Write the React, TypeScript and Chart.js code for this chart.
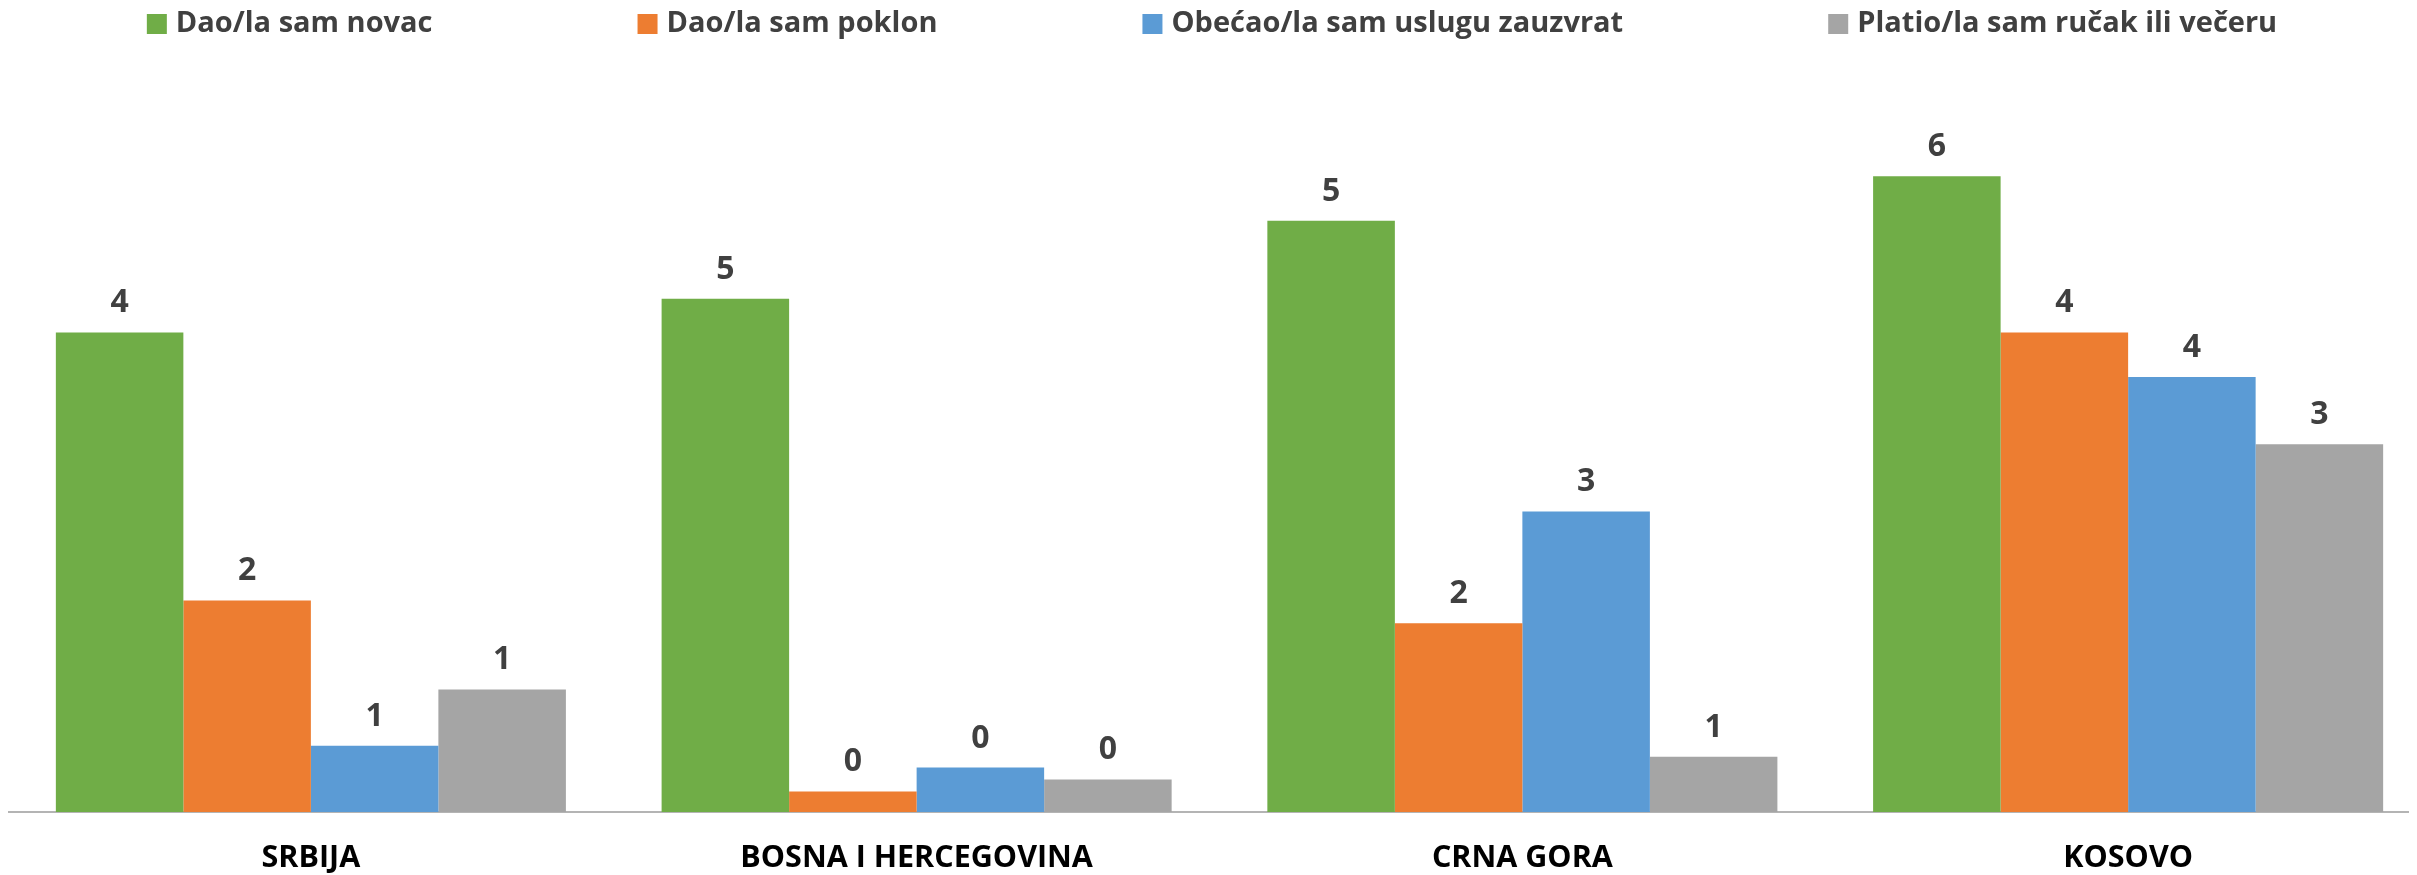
import React, { useEffect, useRef } from "react";
import { Chart, registerables } from "chart.js";

Chart.register(...registerables);

const categories = ["SRBIJA", "BOSNA I HERCEGOVINA", "CRNA GORA", "KOSOVO"];
const seriesLabels = [
  "Dao/la sam novac",
  "Dao/la sam poklon",
  "Obećao/la sam uslugu zauzvrat",
  "Platio/la sam ručak ili večeru",
];
const gaveMoney = [4.42, 4.73, 5.45, 5.86];
const gaveGift = [1.95, 0.19, 1.74, 4.42];
const promisedFavor = [0.61, 0.41, 2.77, 4.01];
const paidMeal = [1.13, 0.3, 0.51, 3.39];
const seriesColors = ["#70AD47", "#ED7D31", "#5B9BD5", "#A5A5A5"];
const yMax = 7;

const FONT = "'Open Sans', sans-serif";

const legendPlugin = {
  id: "customLegend",
  afterDraw(chart: any) {
    const ctx = chart.ctx;
    ctx.save();
    ctx.font = `bold 29px ${FONT}`;
    ctx.textBaseline = "middle";
    ctx.textAlign = "left";
    const box = 20;
    const boxGap = 9;
    const itemGap = 205;
    const items = chart.data.datasets.map((ds: any) => ({
      text: ds.label,
      color: ds.backgroundColor,
      w: ctx.measureText(ds.label).width,
    }));
    const total =
      items.reduce((s: number, it: any) => s + box + boxGap + it.w, 0) +
      itemGap * (items.length - 1);
    let x = 1204 - total / 2;
    const cy = 16;
    items.forEach((it: any) => {
      ctx.fillStyle = it.color;
      ctx.fillRect(x, cy - box / 2, box, box);
      ctx.fillStyle = "#404040";
      ctx.fillText(it.text, x + box + boxGap, cy);
      x += box + boxGap + it.w + itemGap;
    });
    ctx.restore();
  },
};

const dataLabelPlugin = {
  id: "barValueLabels",
  afterDatasetsDraw(chart: any) {
    const ctx = chart.ctx;
    ctx.save();
    ctx.font = `bold 32px ${FONT}`;
    ctx.fillStyle = "#404040";
    ctx.textAlign = "center";
    ctx.textBaseline = "alphabetic";
    chart.data.datasets.forEach((ds: any, i: number) => {
      const meta = chart.getDatasetMeta(i);
      meta.data.forEach((el: any, j: number) => {
        const v = ds.data[j];
        ctx.fillText(String(Math.round(v)), el.x, el.y - 20);
      });
    });
    ctx.restore();
  },
};

export default function App() {
  const ref = useRef<HTMLCanvasElement>(null);

  useEffect(() => {
    if (!ref.current) return;
    const values = [gaveMoney, gaveGift, promisedFavor, paidMeal];
    const chart = new Chart(ref.current, {
      type: "bar",
      data: {
        labels: categories,
        datasets: seriesLabels.map((label, i) => ({
          label,
          data: values[i],
          backgroundColor: seriesColors[i],
          borderWidth: 0,
          categoryPercentage: 0.842,
          barPercentage: 1.0,
        })),
      },
      options: {
        responsive: false,
        animation: false,
        devicePixelRatio: 1,
        layout: { padding: { top: 44.5, left: 0, right: 0, bottom: 0 } },
        plugins: {
          legend: { display: false },
          tooltip: { enabled: false },
          title: { display: false },
        },
        scales: {
          x: {
            grid: { display: false, drawTicks: false },
            border: { display: true, color: "#B4B4B4", width: 2 },
            ticks: {
              color: "#000000",
              font: { family: FONT, size: 30.5, weight: "bold" },
              padding: 28,
              maxRotation: 0,
              autoSkip: false,
            },
            afterFit: (scale: any) => {
              scale.height = 63;
            },
          },
          y: {
            display: false,
            min: 0,
            max: yMax,
          },
        },
      },
      plugins: [legendPlugin, dataLabelPlugin],
    });
    return () => chart.destroy();
  }, []);

  return (
    <div style={{ width: 2401, overflow: "hidden" }}>
      <canvas
        ref={ref}
        width={2423}
        height={867}
        style={{ display: "block", width: 2423, height: 867 }}
      />
    </div>
  );
}
